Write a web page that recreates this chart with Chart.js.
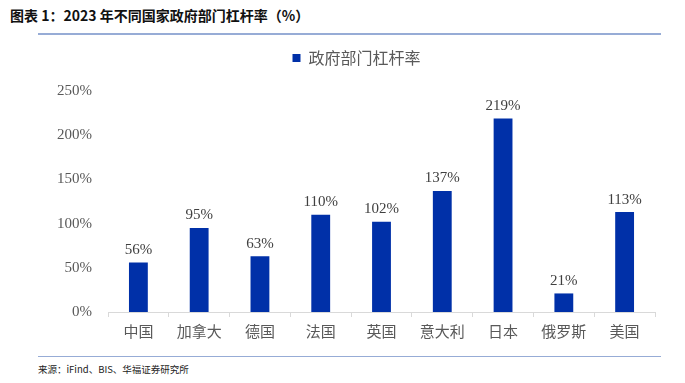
<!DOCTYPE html>
<html>
<head>
<meta charset="utf-8">
<script src="https://cdn.jsdelivr.net/npm/chart.js@4"></script>
<style>
  body { margin: 0; width: 685px; height: 383px; background: #fff; position: relative; overflow: hidden; }
  #title { position: absolute; left: 10px; top: 5px; font: bold 14px "Noto Sans CJK SC", "Liberation Sans", sans-serif; color: #111; }
  #topLine { position: absolute; left: 38px; top: 33px; width: 623px; height: 2px; background: #97acd6; }
  #bottomLine { position: absolute; left: 38px; top: 356px; width: 623px; height: 1px; background: #97acd6; }
  #source { position: absolute; left: 38px; top: 362px; font: 9.5px "Noto Sans CJK SC", "Liberation Sans", sans-serif; color: #222; }
  #wrap { position: absolute; left: 0; top: 30px; width: 685px; height: 322px; }
</style>
</head>
<body>
<div id="title">图表 1：2023 年不同国家政府部门杠杆率（%）</div>
<div id="topLine"></div>
<div id="wrap"><canvas id="leverageChart"></canvas></div>
<div id="bottomLine"></div>
<div id="source">来源：iFind、BIS、华福证券研究所</div>
<script>
const countries = ['中国', '加拿大', '德国', '法国', '英国', '意大利', '日本', '俄罗斯', '美国'];
const leverage = [56, 95, 63, 110, 102, 137, 219, 21, 113];
const yTicks = [0, 50, 100, 150, 200, 250];

const serif = '"Liberation Serif", "Noto Sans CJK SC", serif';

// value labels above the bars
const barLabels = {
    id: 'barLabels',
    afterDatasetsDraw(chart) {
        const ctx = chart.ctx;
        const meta = chart.getDatasetMeta(0);
        ctx.save();
        ctx.font = '15px ' + serif;
        ctx.fillStyle = '#404040';
        ctx.textAlign = 'center';
        ctx.textBaseline = 'bottom';
        meta.data.forEach(function (bar, i) {
            ctx.fillText(leverage[i] + '%', bar.x, bar.y - 5);
        });
        ctx.restore();
    }
};

// extra room under the legend, and nudge it right
const legendGap = {
    id: 'legendGap',
    beforeInit(chart) {
        const fit = chart.legend.fit;
        chart.legend.fit = function () {
            fit.bind(chart.legend)();
            this.height += 15;
        };
    },
    afterLayout(chart) {
        chart.legend.left += 29;
        chart.legend.right += 29;
    }
};

const ctx = document.getElementById('leverageChart').getContext('2d');
const chart = new Chart(ctx, {
    type: 'bar',
    data: {
        labels: countries,
        datasets: [{
            label: '政府部门杠杆率',
            data: leverage,
            backgroundColor: '#0030a8',
            borderWidth: 0,
            categoryPercentage: 1,
            barPercentage: 0.31
        }]
    },
    plugins: [barLabels, legendGap],
    options: {
        responsive: true,
        maintainAspectRatio: false,
        animation: false,
        layout: { padding: { left: 0, right: 30, top: 2, bottom: 0 } },
        plugins: {
            legend: {
                labels: {
                    boxWidth: 8,
                    boxHeight: 8,
                    padding: 18,
                    color: '#595959',
                    font: { family: '"Noto Sans CJK SC", serif', size: 16 }
                }
            },
            tooltip: { enabled: false }
        },
        scales: {
            x: {
                grid: { display: true, drawOnChartArea: false, offset: true, tickLength: 5, color: '#d9d9d9' },
                border: { color: '#d9d9d9' },
                ticks: { color: '#595959', padding: 5, font: { family: '"Noto Sans CJK SC", serif', size: 15 } },
                afterFit(scale) { scale.height = 40; }
            },
            y: {
                min: 0,
                max: 250,
                afterBuildTicks(scale) { scale.ticks = yTicks.map(v => ({ value: v })); },
                grid: { display: false },
                border: { display: false },
                ticks: {
                    color: '#595959',
                    padding: 8,
                    font: { family: serif, size: 15 },
                    callback: v => v + '%'
                },
                afterFit(scale) { scale.width = 108; }
            }
        }
    }
});
</script>
</body>
</html>
